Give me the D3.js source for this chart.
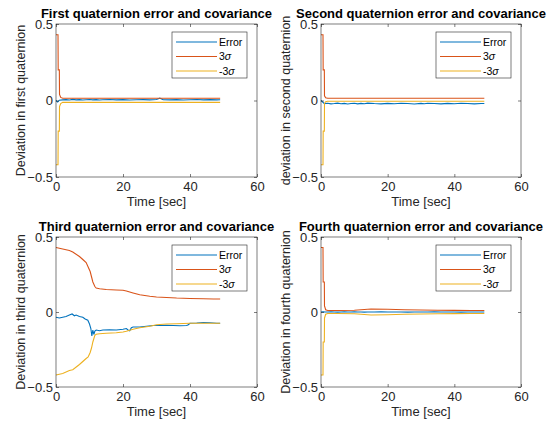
<!DOCTYPE html>
<html>
<head>
<meta charset="utf-8">
<script src="https://cdn.jsdelivr.net/npm/d3@7"></script>
<style>
  body { margin: 0; background: #fff; }
  svg { display: block; font-family: "Liberation Sans", Arial, sans-serif; }
</style>
</head>
<body>
<svg id="chart"></svg>
<script>
// time bases (sec)
const tSig = [0, 0.6, 0.65, 1.0, 1.05, 1.4, 2, 5, 10, 15, 20, 25, 30, 35, 40, 45, 49];
const tErr = [0, 0.5, 1, 2, 3, 4, 5, 6, 7, 8, 9, 10, 11, 12, 13, 14, 16, 18, 20, 22, 24, 26, 28, 30, 31, 32, 34, 36, 38, 40, 42, 44, 46, 48, 49];
const t3Sig = [0, 2, 4, 5, 7, 8, 9, 9.6, 10.2, 10.6, 11, 11.6, 12, 13, 15, 18, 20, 21, 23, 25, 28, 30, 33, 36, 40, 44, 47, 49];
const t3Err = [0, 1, 2, 3, 4, 4.8, 5.5, 6, 7, 8, 8.7, 9.5, 10, 10.4, 10.7, 11, 11.3, 11.6, 12, 13, 14, 16, 18, 20, 21, 21.5, 22, 22.5, 23, 25, 27, 29, 31, 33, 35, 37, 39, 39.5, 40, 42, 44, 46, 48, 49];

// first quaternion
const q1Err = [0, -0.01, 0.002, 0.004, 0.006, 0.003, 0.007, 0.004, 0.006, 0.003, 0.005, 0.007, 0.004, 0.006, 0.003, 0.005, 0.007, 0.004, 0.006, 0.003, 0.005, 0.006, 0.004, 0.007, 0.015, 0.005, 0.004, 0.006, 0.003, 0.005, 0.007, 0.004, 0.006, 0.004, 0.005];
const q1Up = [0.43, 0.43, 0.2, 0.2, 0.04, 0.02, 0.015, 0.015, 0.015, 0.015, 0.015, 0.015, 0.015, 0.015, 0.015, 0.015, 0.015];
const q1Lo = [-0.42, -0.42, -0.2, -0.2, -0.04, -0.02, -0.012, -0.012, -0.012, -0.012, -0.012, -0.012, -0.012, -0.012, -0.012, -0.012, -0.012];

// second quaternion
const q2Err = [0, -0.01, -0.02, -0.018, -0.022, -0.02, -0.017, -0.021, -0.019, -0.023, -0.02, -0.018, -0.022, -0.019, -0.021, -0.017, -0.02, -0.022, -0.019, -0.021, -0.018, -0.02, -0.023, -0.019, -0.021, -0.018, -0.02, -0.022, -0.019, -0.021, -0.018, -0.02, -0.022, -0.02, -0.02];
const q2Up = [0.43, 0.43, 0.2, 0.2, 0.03, 0.018, 0.015, 0.015, 0.015, 0.015, 0.015, 0.015, 0.015, 0.015, 0.015, 0.015, 0.015];
const q2Lo = [-0.42, -0.42, -0.2, -0.2, -0.02, -0.008, -0.005, -0.005, -0.005, -0.005, -0.005, -0.005, -0.005, -0.005, -0.005, -0.005, -0.005];

// third quaternion
const q3Err = [-0.035, -0.04, -0.035, -0.03, -0.02, -0.013, -0.025, -0.02, -0.03, -0.035, -0.047, -0.055, -0.08, -0.11, -0.16, -0.12, -0.15, -0.127, -0.12, -0.125, -0.12, -0.118, -0.12, -0.115, -0.11, -0.12, -0.125, -0.105, -0.1, -0.1, -0.095, -0.09, -0.09, -0.088, -0.09, -0.092, -0.09, -0.085, -0.075, -0.073, -0.07, -0.072, -0.075, -0.075];
const q3Up = [0.43, 0.42, 0.41, 0.40, 0.37, 0.35, 0.33, 0.30, 0.27, 0.235, 0.2, 0.17, 0.16, 0.155, 0.15, 0.147, 0.145, 0.14, 0.127, 0.115, 0.105, 0.1, 0.097, 0.093, 0.09, 0.088, 0.087, 0.087];
const q3Lo = [-0.42, -0.41, -0.39, -0.385, -0.35, -0.33, -0.31, -0.30, -0.27, -0.24, -0.2, -0.155, -0.148, -0.145, -0.142, -0.138, -0.133, -0.128, -0.115, -0.105, -0.095, -0.085, -0.08, -0.078, -0.075, -0.075, -0.075, -0.075];

// fourth quaternion
const q4Err = [0, 0.002, 0.001, 0, 0.001, 0, -0.001, 0, 0.001, 0, 0, 0.001, 0, 0, -0.001, 0, 0, 0.001, 0, 0, 0, -0.001, 0, 0, 0, 0, 0.001, 0, 0, 0, -0.001, 0, 0, 0, 0];
const q4Up = [0.43, 0.43, 0.2, 0.2, 0.04, 0.015, 0.01, 0.01, 0.012, 0.02, 0.018, 0.015, 0.013, 0.012, 0.011, 0.01, 0.01];
const q4Lo = [-0.42, -0.42, -0.2, -0.2, -0.04, -0.015, -0.01, -0.01, -0.012, -0.02, -0.018, -0.015, -0.013, -0.012, -0.011, -0.01, -0.01];

const xTicks = [0, 20, 40, 60];
const yTicks = [-0.5, 0, 0.5];
const legendNames = ['Error', '3', '-3'];
const colors = ['#0072BD', '#D95319', '#EDB120'];

const width = 555, height = 432;
const svg = d3.select('#chart').attr('width', width).attr('height', height);

const panels = [
  { x0: 56, x1: 257, y0: 24, y1: 177, title: 'First quaternion error and covariance', ylabel: 'Deviation in first quaternion',
    series: [[tErr, q1Err], [tSig, q1Up], [tSig, q1Lo]] },
  { x0: 321, x1: 521, y0: 24, y1: 177, title: 'Second quaternion error and covariance', ylabel: 'deviation in second quaternion',
    series: [[tErr, q2Err], [tSig, q2Up], [tSig, q2Lo]] },
  { x0: 56, x1: 257, y0: 237, y1: 387, title: 'Third quaternion error and covariance', ylabel: 'Deviation in third quaternion',
    series: [[t3Err, q3Err], [t3Sig, q3Up], [t3Sig, q3Lo]] },
  { x0: 321, x1: 521, y0: 237, y1: 387, title: 'Fourth quaternion error and covariance', ylabel: 'Deviation in fourth quaternion',
    series: [[tErr, q4Err], [tSig, q4Up], [tSig, q4Lo]] }
];

let drawPanel = (p) => {
  const x = d3.scaleLinear().domain([0, 60]).range([p.x0, p.x1]);
  const y = d3.scaleLinear().domain([-0.5, 0.5]).range([p.y1, p.y0]);
  const g = svg.append('g');

  // lines
  const line = d3.line().x(d => x(d[0])).y(d => y(d[1]));
  p.series.forEach((s, i) => {
    const pts = s[0].map((t, k) => [t, s[1][k]]);
    g.append('path').datum(pts)
      .attr('fill', 'none')
      .attr('stroke', colors[i])
      .attr('stroke-width', 1.1)
      .attr('d', line);
  });

  // axes, ticks inside
  const styleAxis = (sel, labels) => {
    sel.select('.domain').remove();
    sel.selectAll('line').attr('stroke', '#262626').attr('stroke-width', 0.6);
    sel.selectAll('text').attr('fill', '#262626').style('font-size', '13px');
    if (!labels) sel.selectAll('text').remove();
  };
  g.append('g').attr('transform', 'translate(0,' + p.y1 + ')')
    .call(d3.axisBottom(x).tickValues(xTicks).tickSizeInner(-3).tickSizeOuter(0).tickPadding(5))
    .call(s => styleAxis(s, true));
  g.append('g').attr('transform', 'translate(0,' + p.y0 + ')')
    .call(d3.axisTop(x).tickValues(xTicks).tickSizeInner(-3).tickSizeOuter(0))
    .call(s => styleAxis(s, false));
  g.append('g').attr('transform', 'translate(' + p.x0 + ',0)')
    .call(d3.axisLeft(y).tickValues(yTicks).tickSizeInner(-3).tickSizeOuter(0).tickPadding(3).tickFormat(d3.format('')))
    .call(s => styleAxis(s, true));
  g.append('g').attr('transform', 'translate(' + p.x1 + ',0)')
    .call(d3.axisRight(y).tickValues(yTicks).tickSizeInner(-3).tickSizeOuter(0))
    .call(s => styleAxis(s, false));

  g.append('rect')
    .attr('x', p.x0).attr('y', p.y0)
    .attr('width', p.x1 - p.x0).attr('height', p.y1 - p.y0)
    .attr('fill', 'none').attr('stroke', '#262626').attr('stroke-width', 0.6);

  // title and labels
  g.append('text')
    .attr('x', (p.x0 + p.x1) / 2).attr('y', p.y0 - 6)
    .attr('text-anchor', 'middle')
    .style('font-size', '13px').style('font-weight', 'bold')
    .text(p.title);
  g.append('text')
    .attr('x', (p.x0 + p.x1) / 2).attr('y', p.y1 + 29)
    .attr('text-anchor', 'middle')
    .attr('fill', '#262626')
    .style('font-size', '13px')
    .text('Time [sec]');
  g.append('text')
    .attr('transform', 'translate(' + (p.x0 - 31) + ',' + ((p.y0 + p.y1) / 2) + ') rotate(-90)')
    .attr('text-anchor', 'middle')
    .attr('fill', '#262626')
    .style('font-size', '12.5px')
    .text(p.ylabel);

  // legend
  const lw = 75, lh = 46;
  const lx = p.x1 - 10 - lw, ly = p.y0 + 8;
  const lg = g.append('g').attr('transform', 'translate(' + lx + ',' + ly + ')');
  lg.append('rect').attr('width', lw).attr('height', lh)
    .attr('fill', '#fff').attr('stroke', '#262626').attr('stroke-width', 0.6);
  legendNames.forEach((name, i) => {
    const yy = 10 + i * 14.5;
    lg.append('line').attr('x1', 4).attr('x2', 45).attr('y1', yy).attr('y2', yy)
      .attr('stroke', colors[i]).attr('stroke-width', 1.1);
    const t = lg.append('text').attr('x', 47).attr('y', yy + 3.8)
      .style('font-size', '10.5px').attr('fill', '#000');
    t.append('tspan').text(name);
    if (i > 0) t.append('tspan').style('font-style', 'italic').text('σ');
  });
};

panels.forEach(drawPanel);
</script>
</body>
</html>
